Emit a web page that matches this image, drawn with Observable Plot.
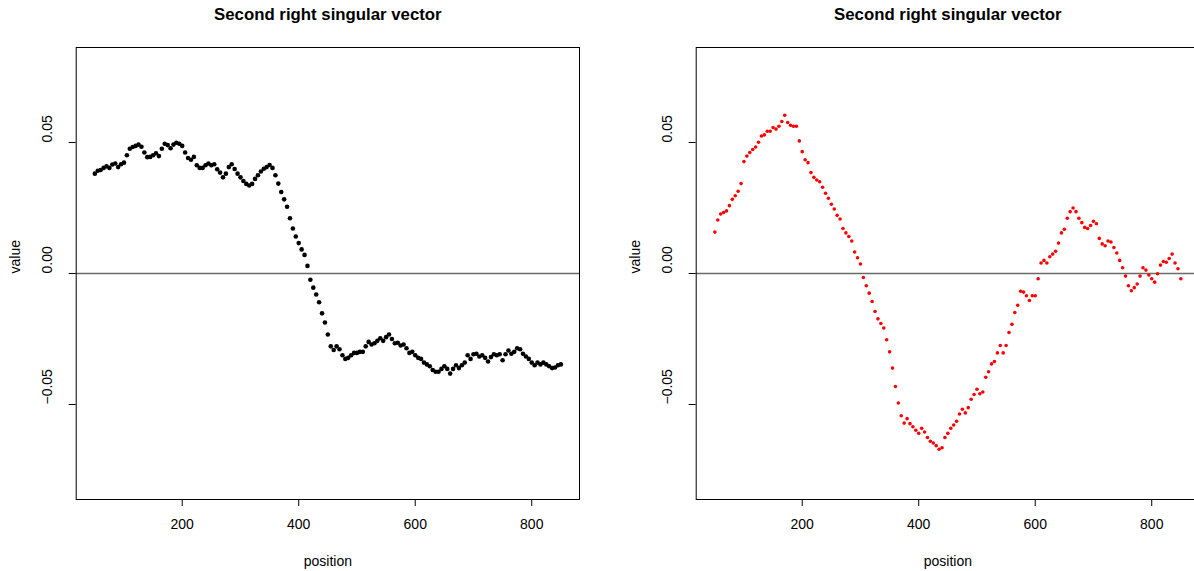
<!DOCTYPE html>
<html>
<head>
<meta charset="utf-8">
<script src="https://cdn.jsdelivr.net/npm/d3@7"></script>
<script src="https://cdn.jsdelivr.net/npm/@observablehq/plot@0.6"></script>
<style>
  html, body { margin: 0; padding: 0; background: #fff; overflow: hidden; }
  #page { position: relative; width: 1194px; height: 571px; overflow: hidden; }
  .panel { position: absolute; top: 0; width: 600px; height: 571px; }
  .panel svg { max-width: none !important; display: block; }
</style>
</head>
<body>
<div id="page">
  <div id="left" class="panel" style="left:0px"></div>
  <div id="right" class="panel" style="left:620.3px"></div>
</div>
<script>
// Sample positions along the sequence
const positions = d3.range(50, 855, 5);

// Second right singular vector, first decomposition (black)
const valuesA = [
  0.0381, 0.0392, 0.0395, 0.0403, 0.0409, 0.0403, 0.0416, 0.0420, 0.0406, 0.0417,
  0.0423, 0.0451, 0.0476, 0.0483, 0.0487, 0.0492, 0.0484, 0.0462, 0.0444, 0.0445,
  0.0451, 0.0459, 0.0448, 0.0476, 0.0495, 0.0490, 0.0478, 0.0492, 0.0499, 0.0495,
  0.0487, 0.0462, 0.0441, 0.0434, 0.0445, 0.0413, 0.0403, 0.0403, 0.0413, 0.0420,
  0.0413, 0.0417, 0.0398, 0.0385, 0.0367, 0.0381, 0.0406, 0.0417, 0.0399, 0.0381,
  0.0367, 0.0353, 0.0342, 0.0336, 0.0342, 0.0361, 0.0375, 0.0389, 0.0400, 0.0406,
  0.0414, 0.0403, 0.0375, 0.0343, 0.0311, 0.0283, 0.0255, 0.0211, 0.0172, 0.0141,
  0.0116, 0.0092, 0.0071, 0.0029, -0.0024, -0.0054, -0.0080, -0.0110, -0.0152, -0.0187,
  -0.0233, -0.0278, -0.0292, -0.0278, -0.0289, -0.0312, -0.0326, -0.0322, -0.0312, -0.0303,
  -0.0303, -0.0299, -0.0299, -0.0278, -0.0261, -0.0271, -0.0266, -0.0257, -0.0247, -0.0257,
  -0.0243, -0.0233, -0.0250, -0.0266, -0.0264, -0.0275, -0.0271, -0.0285, -0.0303, -0.0299,
  -0.0312, -0.0322, -0.0326, -0.0340, -0.0347, -0.0354, -0.0368, -0.0375, -0.0375, -0.0364,
  -0.0354, -0.0364, -0.0382, -0.0364, -0.0350, -0.0361, -0.0350, -0.0340, -0.0312, -0.0326,
  -0.0308, -0.0306, -0.0317, -0.0312, -0.0322, -0.0336, -0.0319, -0.0308, -0.0312, -0.0308,
  -0.0331, -0.0308, -0.0294, -0.0306, -0.0299, -0.0285, -0.0289, -0.0306, -0.0317, -0.0326,
  -0.0340, -0.0350, -0.0340, -0.0347, -0.0340, -0.0347, -0.0354, -0.0361, -0.0359, -0.0350,
  -0.0347
];

// Second right singular vector, second decomposition (red)
const valuesB = [
  0.0158, 0.0204, 0.0227, 0.0233, 0.0239, 0.0259, 0.0283, 0.0297, 0.0314, 0.0343,
  0.0427, 0.0448, 0.0462, 0.0473, 0.0483, 0.0501, 0.0525, 0.0529, 0.0543, 0.0543,
  0.0557, 0.0551, 0.0562, 0.0580, 0.0604, 0.0576, 0.0566, 0.0562, 0.0562, 0.0506,
  0.0465, 0.0434, 0.0423, 0.0385, 0.0367, 0.0357, 0.0350, 0.0329, 0.0306, 0.0287,
  0.0264, 0.0246, 0.0222, 0.0208, 0.0172, 0.0155, 0.0141, 0.0124, 0.0082, 0.0060,
  0.0036, -0.0015, -0.0047, -0.0075, -0.0107, -0.0145, -0.0173, -0.0191, -0.0208, -0.0253,
  -0.0299, -0.0361, -0.0431, -0.0494, -0.0543, -0.0571, -0.0554, -0.0573, -0.0585, -0.0598,
  -0.0610, -0.0591, -0.0605, -0.0626, -0.0640, -0.0647, -0.0657, -0.0671, -0.0665, -0.0626,
  -0.0610, -0.0591, -0.0578, -0.0564, -0.0536, -0.0518, -0.0532, -0.0512, -0.0480, -0.0462,
  -0.0442, -0.0459, -0.0452, -0.0396, -0.0375, -0.0345, -0.0336, -0.0303, -0.0275, -0.0303,
  -0.0275, -0.0225, -0.0194, -0.0149, -0.0121, -0.0068, -0.0071, -0.0085, -0.0103, -0.0085,
  -0.0085, -0.0020, 0.0040, 0.0050, 0.0040, 0.0064, 0.0074, 0.0085, 0.0116, 0.0155,
  0.0169, 0.0211, 0.0236, 0.0250, 0.0236, 0.0211, 0.0194, 0.0176, 0.0172, 0.0183,
  0.0199, 0.0190, 0.0134, 0.0113, 0.0106, 0.0124, 0.0120, 0.0099, 0.0078, 0.0050,
  0.0022, -0.0010, -0.0047, -0.0066, -0.0054, -0.0040, -0.0010, 0.0022, 0.0013, -0.0006,
  -0.0020, -0.0033, -0.0001, 0.0032, 0.0046, 0.0043, 0.0057, 0.0074, 0.0040, 0.0018,
  -0.0020
];

const chartTitle = "Second right singular vector";
const xLabel = "position";
const yLabel = "value";
const xTicks = [200, 400, 600, 800];
const yTicks = [-0.05, 0, 0.05];

const fmtY = d => d.toFixed(2).replace("-", "\u2212");

function panel(values, color, radius) {
  const data = positions.map((p, i) => ({position: p, value: values[i]}));
  return Plot.plot({
    width: 600,
    height: 571,
    marginLeft: 75.7,
    marginRight: 21,
    marginTop: 47,
    marginBottom: 72,
    style: {
      fontFamily: "'Liberation Sans', Arial, Helvetica, sans-serif",
      fontSize: "14px",
      color: "#000",
      background: "transparent",
      overflow: "visible",
      maxWidth: "none"
    },
    x: {domain: [18, 882]},
    y: {domain: [-0.08625, 0.08625]},
    marks: [
      Plot.ruleY([0], {stroke: "#6a6a6a", strokeWidth: 1.6}),
      Plot.dot(data, {x: "position", y: "value", r: radius, fill: color, stroke: "none"}),
      Plot.frame({stroke: "#000", strokeWidth: 1}),
      Plot.axisX({ticks: xTicks, tickSize: 7, tickPadding: 13, tickFormat: d => String(d), fontSize: 14, label: null}),
      Plot.axisY({ticks: yTicks, tickSize: 7, tickFormat: () => "", label: null}),
      Plot.text(yTicks, {y: d => d, text: fmtY, frameAnchor: "left", dx: -29, rotate: -90, fontSize: 14}),
      Plot.text([xLabel], {text: d => d, frameAnchor: "bottom", lineAnchor: "middle", dy: 62, fontSize: 14}),
      Plot.text([yLabel], {text: d => d, frameAnchor: "left", dx: -61, rotate: -90, fontSize: 14}),
      Plot.text([chartTitle], {text: d => d, frameAnchor: "top", lineAnchor: "middle", dy: -33, fontSize: 16.8, fontWeight: "bold"})
    ]
  });
}

document.getElementById("left").appendChild(panel(valuesA, "#000000", 2.3));
document.getElementById("right").appendChild(panel(valuesB, "#ff0000", 1.8));
</script>
</body>
</html>
